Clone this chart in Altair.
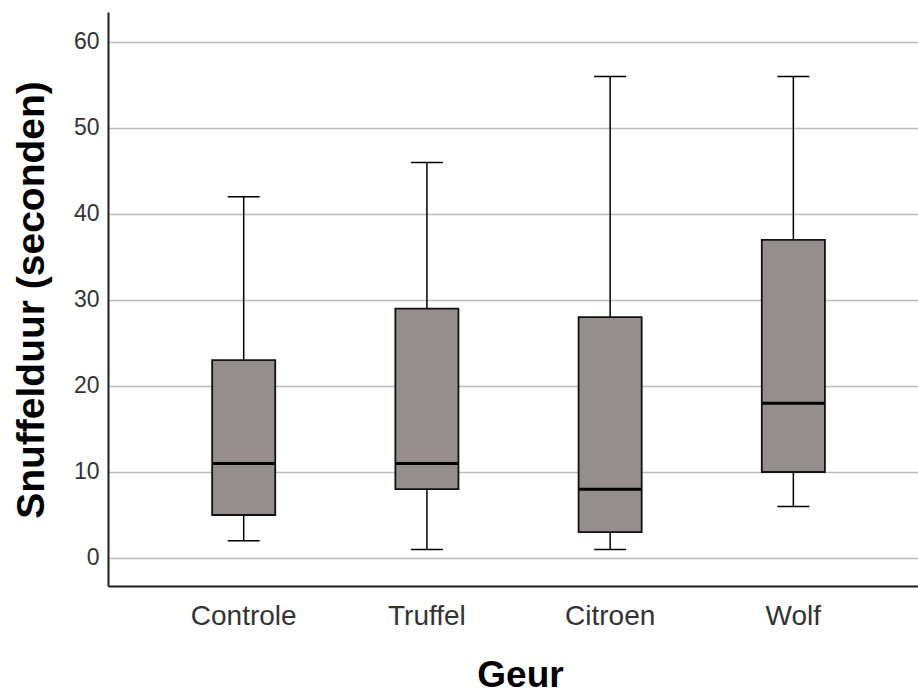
import altair as alt
import pandas as pd

categories = ["Controle", "Truffel", "Citroen", "Wolf"]
mins = [2, 1, 1, 6]
q1s = [5, 8, 3, 10]
medians = [11, 11, 8, 18]
q3s = [23, 29, 28, 37]
maxs = [42, 46, 56, 56]

df = pd.DataFrame({
    "Geur": categories,
    "min": mins,
    "q1": q1s,
    "median": medians,
    "q3": q3s,
    "max": maxs,
})

FONT = "Liberation Sans"

xscale = alt.Scale(domain=categories, paddingInner=0.6557, paddingOuter=0.5383, align=0.528)
yscale = alt.Scale(domain=[-3.256, 63.488], nice=False, zero=False)

xaxis = alt.Axis(
    title="Geur", titleFont=FONT, titleFontSize=37, titleFontWeight="bold", titleColor="#000000",
    titleX=412, titleY=100, titleBaseline="alphabetic", titleAlign="center",
    labelFont=FONT, labelFontSize=28, labelColor="#333333", labelPadding=16, labelAngle=0,
    ticks=False, tickSize=0, grid=False, domainColor="#1e1e1e", domainWidth=2,
)
yaxis = alt.Axis(
    title="Snuffelduur (seconden)", titleFont=FONT, titleFontSize=39, titleFontWeight="bold",
    titleColor="#000000", titleX=-65, titleY=287.5, titleBaseline="alphabetic", titleAlign="center",
    titleAngle=270,
    values=[0, 10, 20, 30, 40, 50, 60],
    labelFont=FONT, labelFontSize=23, labelColor="#333333", labelPadding=9,
    ticks=False, tickSize=0, grid=True, gridColor="#bcbcbc", gridWidth=1.3,
    domainColor="#1e1e1e", domainWidth=2,
)

base = alt.Chart(df)

whisk_lo = base.mark_rule(color="#000000", strokeWidth=1.5).encode(
    x=alt.X("Geur:N", scale=xscale, axis=xaxis, sort=categories),
    y=alt.Y("min:Q", scale=yscale, axis=yaxis),
    y2="q1:Q",
)
whisk_hi = base.mark_rule(color="#000000", strokeWidth=1.5).encode(
    x=alt.X("Geur:N", sort=categories),
    y=alt.Y("q3:Q"),
    y2="max:Q",
)
box = base.mark_bar(fill="#948f8d", stroke="#111111", strokeWidth=1.8, opacity=1).encode(
    x=alt.X("Geur:N", sort=categories),
    y=alt.Y("q1:Q"),
    y2="q3:Q",
)
med = base.mark_tick(color="#000000", size=62, thickness=3, opacity=1).encode(
    x=alt.X("Geur:N", sort=categories),
    y=alt.Y("median:Q"),
)
cap_lo = base.mark_tick(color="#000000", size=32, thickness=1.5, opacity=1).encode(
    x=alt.X("Geur:N", sort=categories),
    y=alt.Y("min:Q"),
)
cap_hi = base.mark_tick(color="#000000", size=32, thickness=1.5, opacity=1).encode(
    x=alt.X("Geur:N", sort=categories),
    y=alt.Y("max:Q"),
)

chart = alt.layer(whisk_lo, whisk_hi, box, med, cap_lo, cap_hi).properties(
    width=810, height=574,
    autosize=alt.AutoSizeParams(type="none"),
    padding={"left": 108, "top": 12, "right": 0, "bottom": 111},
    background="#ffffff",
).configure_view(stroke=None)

chart.save("out.html", embed_options={"renderer": "svg", "actions": False})
